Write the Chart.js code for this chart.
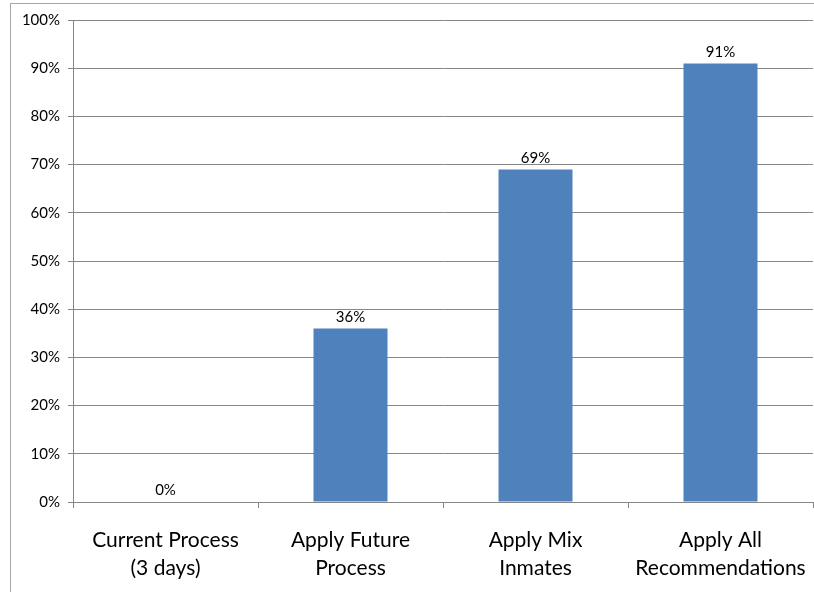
<!DOCTYPE html>
<html lang="en">
<head>
    <meta charset="UTF-8">
    <title>chart.js</title>
    <script src="https://cdn.jsdelivr.net/npm/chart.js@4.4.0/dist/chart.umd.min.js"></script>
    <style>
        body{ margin:0; background:#fff; }
        #board{ position:relative; width:814px; height:592px; overflow:hidden; }
        #frame{ /* chart frame, cut off at right/bottom like the picture */
            position:absolute; left:10px; top:3px; width:900px; height:700px;
            border:1px solid #a6a6a6; box-sizing:border-box;
        }
        #chart1{ position:absolute; left:0; top:0; }
    </style>
</head>
<body>
    <div id="board">
        <div id="frame"></div>
        <canvas id="chart1" width="814" height="592"></canvas>
    </div>
<script>
    const categories = [['Current Process','(3 days)'], ['Apply Future','Process'], ['Apply Mix','Inmates'], ['Apply All','Recommendations']];
    const values = [0, 36, 69, 91]; // 퍼센트
    const yTicks = [0, 10, 20, 30, 40, 50, 60, 70, 80, 90, 100];

    const font = "Lato, 'Open Sans', sans-serif";

    // 막대 위에 값 표시
    const valueLabels = {
        id:'valueLabels',
        afterDatasetsDraw(chart){
            const ctx = chart.ctx;
            const meta = chart.getDatasetMeta(0);
            ctx.save();
            ctx.fillStyle = '#000';
            ctx.font = '15px ' + font;
            ctx.textAlign = 'center';
            ctx.textBaseline = 'bottom';
            meta.data.forEach((bar, i) => {
                ctx.fillText(values[i] + '%', bar.x, bar.y - 4);
            });
            ctx.restore();
        }
    };

    new Chart(document.getElementById('chart1').getContext('2d'), {
        type:'bar',
        data:{
            labels:categories,
            datasets:[{
                data:values,
                backgroundColor:'#4F81BD',
                borderWidth:0,
                barPercentage:0.4,
                categoryPercentage:1
            }]
        },
        options:{
            responsive:false,
            animation:false,
            layout:{ padding:{ left:0, right:1, top:20, bottom:0 } },
            plugins:{ legend:{display:false}, tooltip:{enabled:false} },
            scales:{
                x:{
                    grid:{ offset:true, drawOnChartArea:false, drawTicks:true, tickLength:6, color:'#868686' },
                    border:{ color:'#868686' },
                    ticks:{ color:'#000', font:{ family:font, size:21, lineHeight:1.35 }, padding:18, maxRotation:0 },
                    afterFit(scale){ scale.height = 90; scale.paddingLeft = 0; scale.paddingRight = 0; }
                },
                y:{
                    min:0, max:100,
                    afterBuildTicks(scale){ scale.ticks = yTicks.map(v => ({value:v})); },
                    grid:{ color:'#868686', tickLength:5 },
                    border:{ color:'#868686' },
                    ticks:{ color:'#000', font:{ family:font, size:15 }, padding:8,
                        callback:(v) => v + '%' },
                    afterFit(scale){ scale.width = 73; }
                }
            }
        },
        plugins:[valueLabels]
    });
</script>
</body>
</html>
